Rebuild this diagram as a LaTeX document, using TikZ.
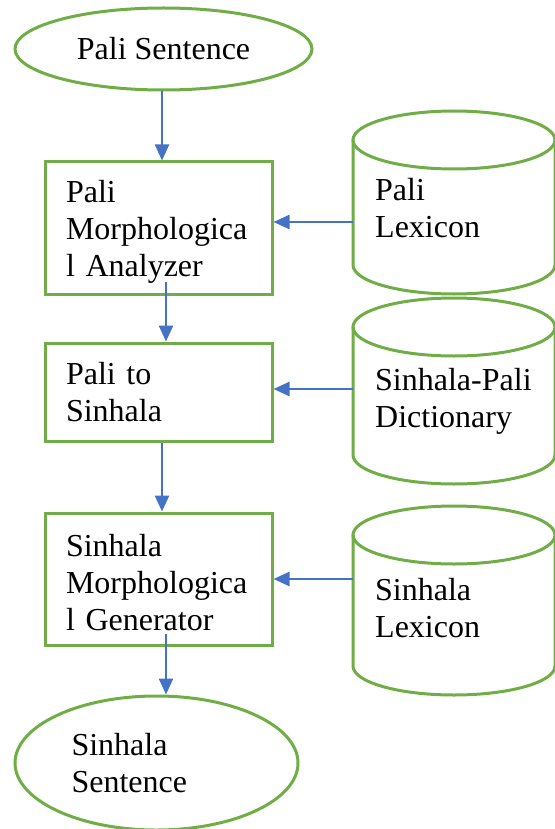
\documentclass[tikz,border=0pt]{standalone}
\usepackage{fontspec}
\setmainfont{Liberation Serif}
\usetikzlibrary{arrows.meta,shapes.geometric}
\definecolor{boxgreen}{RGB}{112,173,71}
\definecolor{flowblue}{RGB}{68,114,196}
\tikzset{
	stage/.style={draw=boxgreen,line width=3pt,rectangle,minimum width=227pt,
		text width=185pt,inner xsep=21pt,align=left},
	endpt/.style={draw=boxgreen,line width=3pt,ellipse,inner sep=0pt},
	db/.style={draw=boxgreen,line width=3pt},
	dbtext/.style={anchor=north west,inner sep=0pt,align=left},
	flow/.style={draw=flowblue,line width=2.5pt,->}
}
% cylinder: top ellipse centre y, bottom ellipse centre y
\newcommand{\dbcyl}[2]{%
	\draw[db] (454,#1) ellipse[x radius=101,y radius=29];
	\draw[db] (353,#1) -- (353,#2) arc[start angle=180,end angle=0,x radius=101,y radius=29] -- (555,#1);}
\begin{document}
\begin{tikzpicture}[x=1pt,y=-1pt,>={Triangle[width=14pt,length=16pt]},
		font=\fontsize{32}{37}\selectfont]
	\useasboundingbox (0,0) rectangle (554,829);
	% input and output
	\node[endpt,minimum width=297pt,minimum height=82pt] (palisent) at (163.5,49) {Pali Sentence};
	\node[endpt,minimum width=283pt,minimum height=134pt,text width=170pt,align=left]
		(sinsent) at (156.5,763) {Sinhala\\Sentence};
	% processing stages
	\node[stage,minimum height=132pt] (palima) at (158.5,228) {\rule{0pt}{30pt}Pali\\Morphologica\\l Analyzer};
	\node[stage,minimum height=98pt] (palisin) at (158.5,392) {Pali to\\Sinhala};
	\node[stage,minimum height=132pt] (sinmg) at (158.5,579) {\rule{0pt}{30pt}Sinhala\\Morphologica\\l Generator};
	% lexical resources
	\dbcyl{140}{265}
	\dbcyl{327}{455}
	\dbcyl{535}{666}
	\coordinate (palilex) at (353,222);
	\coordinate (sinpali) at (353,389);
	\coordinate (sinlex) at (353,579);
	\node[dbtext] (palilext) at (375,178) {Pali\\Lexicon};
	\node[dbtext] (sinpalit) at (375,368) {Sinhala-Pali\\Dictionary};
	\node[dbtext] (sinlext) at (375,578) {Sinhala\\Lexicon};
	% flow
	\draw[flow] ([xshift=-1.5pt]palisent.south) -- ([xshift=3.5pt]palima.north);
	\draw[flow] ([xshift=7.5pt,yshift=14pt]palima.south) -- ([xshift=7.5pt]palisin.north);
	\draw[flow] ([xshift=3.5pt]palisin.south) -- ([xshift=3.5pt]sinmg.north);
	\draw[flow] ([xshift=7.5pt,yshift=13pt]sinmg.south) -- ([xshift=7.5pt]sinmg.south |- sinsent.north);
	\draw[flow] (palilex) -- (palima.east |- palilex);
	\draw[flow] (sinpali) -- (palisin.east |- sinpali);
	\draw[flow] (sinlex) -- (sinmg.east |- sinlex);
\end{tikzpicture}
\end{document}
